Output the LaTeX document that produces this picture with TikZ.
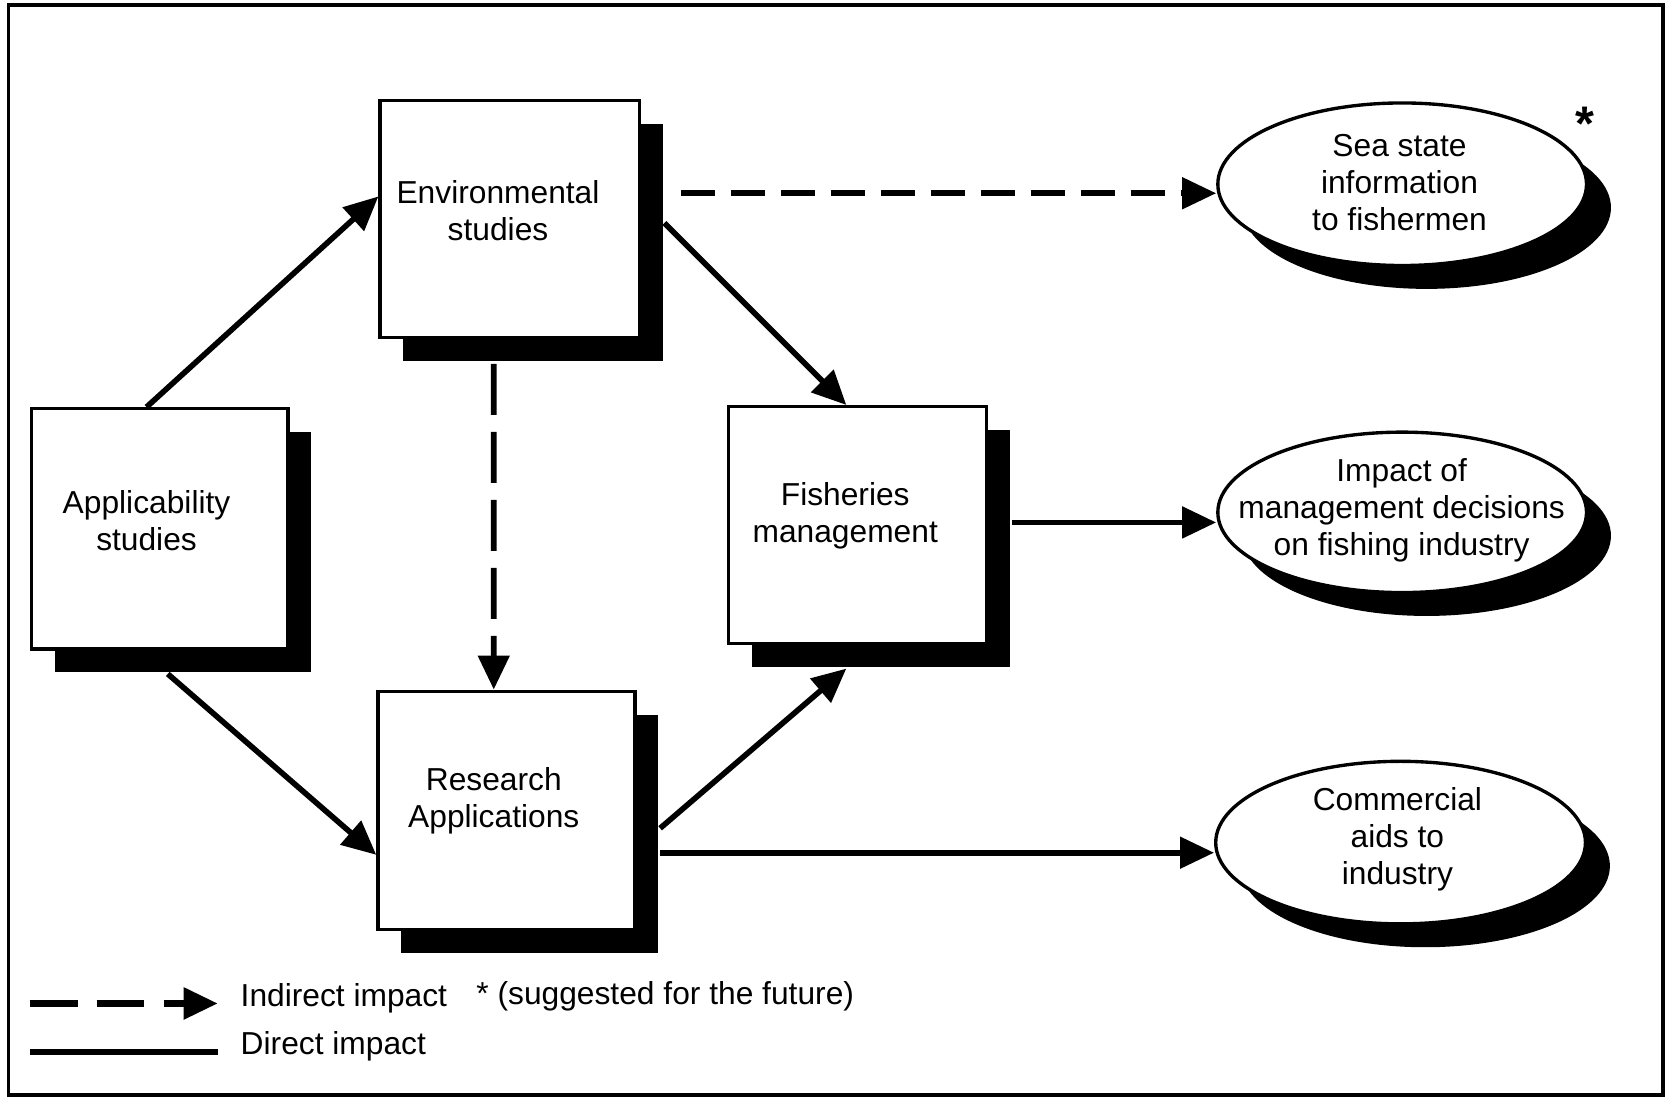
\documentclass[tikz,border=0pt]{standalone}
\usepackage{fontspec}
\setmainfont{Liberation Sans}
\usetikzlibrary{arrows.meta,shadows,shapes.geometric}
\begin{document}
\begin{tikzpicture}[x=0.01cm,y=-0.01cm,
  txt/.style={font=\fontsize{8.5}{9.9}\selectfont, align=center, inner sep=0pt},
  sbox/.style={draw=black, line width=0.9pt, fill=white, rectangle, inner sep=0pt,
    drop shadow={shadow xshift=0.22cm, shadow yshift=-0.22cm, opacity=1, fill=black, draw=none}},
  sell/.style={draw=black, line width=0.9pt, fill=white, ellipse, inner sep=0pt,
    drop shadow={shadow xshift=0.23cm, shadow yshift=-0.22cm, opacity=1, fill=black, draw=none}},
  tip/.style={-{Triangle[length=0.32cm,width=0.29cm]}},
  direct/.style={tip, line width=1.5pt},
  indirect/.style={tip, line width=1.5pt, dash pattern=on 0.32cm off 0.15cm},
  vindirect/.style={tip, line width=1.5pt, dash pattern=on 0.48cm off 0.16cm},
  legdash/.style={tip, line width=1.7pt, dash pattern=on 0.45cm off 0.18cm},
  legline/.style={line width=1.7pt}]
\useasboundingbox (0,0) rectangle (1568,1033);
\draw[line width=1pt] (8,5) rectangle (1566,1031);

% boxes
\node[sbox, minimum width=2.41cm, minimum height=2.26cm] (appl) at (150.5,498) {};
\node[sbox, minimum width=2.44cm, minimum height=2.23cm] (env) at (480,206.5) {};
\node[sbox, minimum width=2.43cm, minimum height=2.23cm] (fish) at (807.5,494.5) {};
\node[sbox, minimum width=2.42cm, minimum height=2.24cm] (res) at (477,763) {};

\node[txt] (applt) at (138,490) {Applicability\\studies};
\node[txt] (envt) at (469,198) {Environmental\\studies};
\node[txt] (fisht) at (796,486) {Fisheries\\management};
\node[txt] (rest) at (465,754) {Research\\Applications};

% ellipses
\node[sell, minimum width=3.47cm, minimum height=1.53cm] (sea) at (1320.5,173.5) {};
\node[sell, minimum width=3.47cm, minimum height=1.51cm] (imp) at (1320.5,482.5) {};
\node[sell, minimum width=3.48cm, minimum height=1.53cm] (com) at (1319,793.5) {};

\node[txt] (seat) at (1318,172) {Sea state\\information\\to fishermen};
\node[txt] (impt) at (1320,481) {Impact of\\management decisions\\on fishing industry};
\node[txt] (comt) at (1316,790) {Commercial\\aids to\\industry};
\node[font=\fontsize{13}{13}\selectfont\bfseries, inner sep=0pt] (star) at (1493,117) {*};

% connectors
\draw[direct] ([xshift=-0.125cm]appl.north) -- ([yshift=0.215cm]env.west);
\draw[direct] ([xshift=0.075cm,yshift=-0.22cm]appl.south) -- ([yshift=-0.42cm]res.west);
\draw[direct] ([xshift=0.22cm,yshift=-0.035cm]env.east) -- ([xshift=-0.105cm]fish.north);
\draw[direct] ([xshift=0.22cm,yshift=-0.17cm]res.east) -- ([xshift=-0.105cm,yshift=-0.22cm]fish.south);
\draw[vindirect] ([xshift=-0.15cm,yshift=-0.23cm]env.south) -- ([xshift=-0.12cm]res.north);
\coordinate (e1) at ([xshift=0.38cm,yshift=0.245cm]env.east);
\draw[indirect] (e1) -- (e1 -| sea.west);
\coordinate (f1) at ([xshift=0.22cm,yshift=0.025cm]fish.east);
\draw[direct] (f1) -- (f1 -| imp.west);
\coordinate (r1) at ([xshift=0.22cm,yshift=-0.40cm]res.east);
\draw[direct] (r1) -- (r1 -| com.west);

% legend
\coordinate (l1) at (28,945);
\coordinate (l2) at (205,945);
\draw[legdash] (l1) -- (l2);
\coordinate (l3) at (28,991);
\coordinate (l4) at (205,991);
\draw[legline] (l3) -- (l4);
\node[txt, anchor=west] (lt1) at (226,940) {Indirect impact};
\node[txt, anchor=west] (lt2) at (448,938) {* (suggested for the future)};
\node[txt, anchor=west] (lt3) at (226,985) {Direct impact};
\end{tikzpicture}
\end{document}
